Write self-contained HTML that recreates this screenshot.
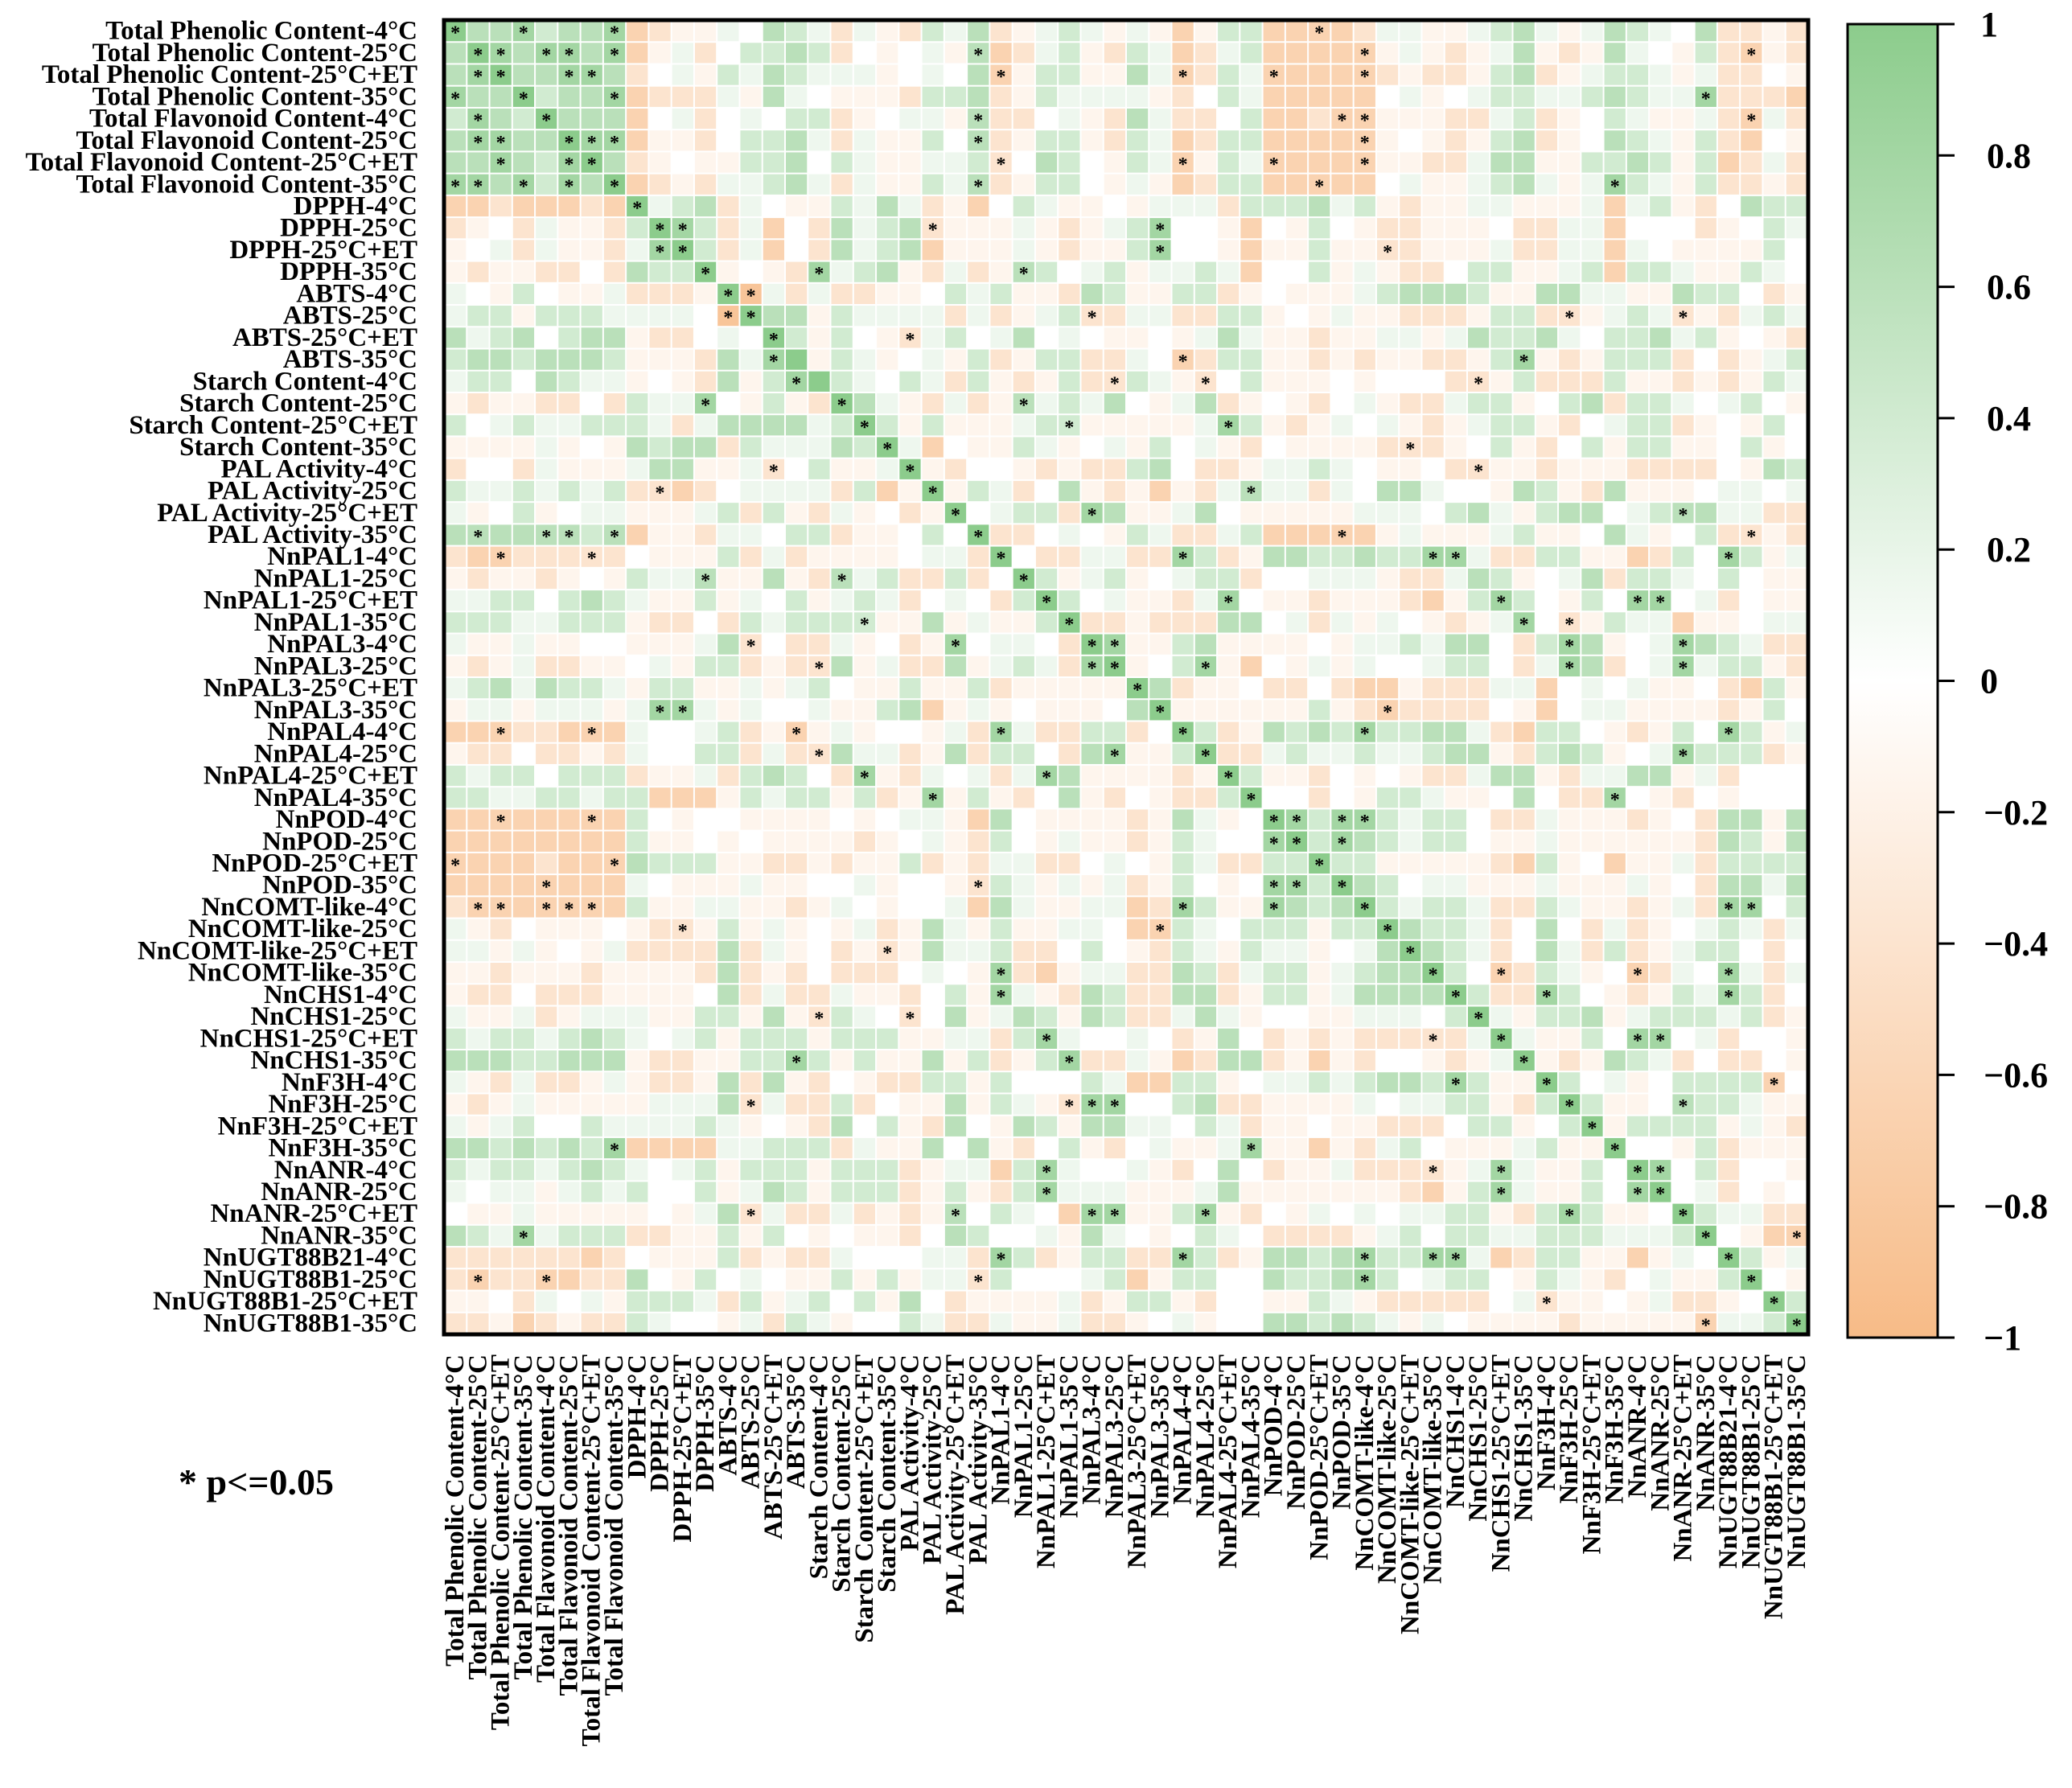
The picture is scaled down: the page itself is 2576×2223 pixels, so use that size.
<!DOCTYPE html>
<html><head><meta charset="utf-8">
<style>
html,body{margin:0;padding:0;background:#fff;}
svg text{font-family:"Liberation Serif",serif;font-weight:bold;fill:#000;}
</style></head>
<body>
<svg id="chart" width="2576" height="2218" viewBox="0 0 2576 2218" xmlns="http://www.w3.org/2000/svg">
<defs>
<linearGradient id="cbgrad" x1="0" y1="0" x2="0" y2="1">
<stop offset="0" stop-color="rgb(140,204,140)"/>
<stop offset="0.5" stop-color="rgb(255,255,255)"/>
<stop offset="1" stop-color="rgb(247,187,135)"/>
</linearGradient>
</defs>
<g id="cells"></g>
<g id="rowlabels"></g>
<g id="collabels"></g>
<rect x="552" y="25" width="1696" height="1634" fill="none" stroke="#000" stroke-width="5"/>
<rect x="2297" y="30" width="112" height="1633" fill="url(#cbgrad)" stroke="#000" stroke-width="3"/>
<g id="cbticks"></g>
<text x="222" y="1858" font-size="46">* p&lt;=0.05</text>
</svg>
<script>
const groups = ["Total Phenolic Content","Total Flavonoid Content","DPPH","ABTS","Starch Content","PAL Activity","NnPAL1","NnPAL3","NnPAL4","NnPOD","NnCOMT-like","NnCHS1","NnF3H","NnANR","NnUGT88B1"];
const conditions = ["4°C","25°C","25°C+ET","35°C"];
const cbTicks = [1,0.8,0.6,0.4,0.2,0,-0.2,-0.4,-0.6,-0.8,-1];
const levelValues = {"A":-0.85,"B":-0.65,"C":-0.4,"D":-0.15,"0":0,"d":0.15,"c":0.4,"b":0.6,"a":0.8};

const block11 = [
"a* b b a* c b b a* B C D D d 0 b c d C d D",
"b a* a* b a* a* b a* B D d C 0 c c b c C 0 D",
"b a* a* b b a* a* b C 0 d D c d b c d d d D",
"a* b b a* c b b a* B C C C d D b d 0 D D D",
"c a* b c a* b b b B 0 d C 0 d 0 c c C D 0",
"b a* a* b b a* a* a* B D D C 0 c c b d C d D",
"b b a* b c a* a* b C D 0 D D c c b 0 c d D",
"a* a* b a* c a* b a* B C D C d d c b d C d D",
"B B C B B B C B a* d c b C d 0 D D c d b",
"C D 0 C d D D C c a* a* c C d B 0 C b d c",
"D 0 d C d D D C d a* a* c C d B 0 C b d c",
"D C D D C C 0 C b c c a* D 0 D C a* d c b",
"d 0 D c 0 D D d C C C D a* A* d C d C C D",
"d c c D c c c d d d d 0 A* a* b b D c d d",
"b d c b 0 c b b D C C 0 d 0 a* c D c 0 D",
"c b b c b b b c D D D C b d a* c D c d D",
"d c c 0 b c d d D 0 D C b D c a* A c d 0",
"D C D D C C 0 C c d d a* 0 D c D C a* b d",
"c 0 d c d d c c c d C d b b b b d c a* c",
"D D D D d D 0 D b c b b C c d d d b c a*"];
const block12 = [
"C c d b C D d c d D d D B D c c B B B* B",
"0 d D b* B C d c D C c d B C d c B B B B",
"0 d 0 b B* D c c D D b d B* C c d B* B B B",
"C c c b C D c d d d d D C 0 c d B B B B",
"d d D b* C C 0 d D C b d C C 0 c B B C B*",
"D c 0 b* C D c c D C c d B C c c B B B B",
"D d d c C* 0 b c 0 D c d B* D c d B* B B B",
"D c d b* C D c c 0 D d D B C c c B B B* B",
"d C D B 0 c d D D 0 D d d d C c c c b d",
"b C* D D D d D C D d c a* 0 0 D B 0 D c 0",
"b B D D D d D C D D c a* 0 0 D B D D c D",
"D C d C D b* c 0 d c D d d c d B 0 0 c D",
"D 0 c d c D D C b c D D c c C D 0 D D D",
"d d C d C D d c C* C d d C C c c D 0 D d",
"C* d c 0 d b 0 d 0 D D 0 D d b d D D C D",
"0 d D c C D c c C C d 0 B* C c c D D C D",
"c d C c D C D c C C* c d D C* 0 c D D D 0",
"D C d C D b* d c d b 0 D d b C D 0 D C 0",
"D c D D D d c c* D D D D D d a* c D C D d",
"d B 0 D D c d D 0 d D c 0 d D C 0 D D D"];
const block13 = [
"C d d D D d c b d D d b c d 0 b C C D C",
"B* D d D C D d b D C D b d 0 D c C B* D C",
"B* C D C C D c b C D d c c d D d C C 0 D",
"B 0 d D 0 d c c d d c b c d d a* C C C B",
"B* D D D C C d c C D 0 c d D D d C B* d C",
"B* D 0 D C D c b C D 0 b c d D c C B 0 D",
"B* D D C C d b b D D c c b c D c B C d C",
"B 0 d D D d c b d D d a* c d D c C C D C",
"c D C D D d d D D D d B d c D C 0 b c c",
"D C C D D D 0 C C d d B 0 0 0 C D 0 c d",
"D C* C D D D d C C d d B d 0 D D D D c 0",
"d D C C 0 c c D D d c B c c d D D c d 0",
"d c b b b c D D b b d d D D b c c 0 C D",
"D D C C C D c c C C* D d c d C* D C d c d",
"D d d D d b c c b d 0 c c b d c D 0 D C",
"C D D C C D c a* D C D c c c C 0 C D d c",
"D 0 0 0 C C* D c C C C c D D C D C D c d",
"d D C C d c c D 0 c b C c c d 0 d c 0 D",
"0 d D C D d c c D C 0 d c c C D 0 D c 0",
"D C C* C D 0 c D C 0 c D c c D D 0 c D 0"];
const block22 = [
"a* D C 0 0 D C D C C c b 0 C C D d d c d",
"D a* D c d C 0 b D C D B D C d b* d d C d",
"C D a* 0 d c c C a* b D D d b 0 D D D D D",
"0 c 0 a* C C 0 d 0 D c d C C d c B B B B*",
"0 d d C a* 0 C C d d C C a* c C D b b c c",
"C C c C 0 a* c D d c D 0 d c c C 0 0 d d",
"C 0 d 0 C c a* c 0 d D D C d a* 0 D D C D",
"D b D d D D c a* C C D C C C b b 0 d C d",
"C D a* 0 d d 0 C a* a* D D c b D D D D 0 D",
"C C b D d c d C a* a* D 0 c a* D B 0 D d D",
"c D D c C D D D D D a* b C D D 0 C C 0 C",
"b B D d D 0 D D D 0 b a* D D D D D D c D",
"0 D d C a* d C C c c C 0 a* c C D b c b c",
"C D b C c c 0 C b a* D D c a* C C d c d d",
"C d 0 d C d a* b D D D D C D a* c D D C 0",
"D a* D c D C 0 b D C 0 D C C c a* 0 0 C 0",
"d d D B b 0 D D D D C D b d D 0 a* a* c a*",
"0 d D C c 0 D d D D C D c d 0 0 a* a* c a*",
"c C D C d d C C 0 d 0 D c d C C c c a* c",
"0 0 D C* c d D d D d C D c 0 D 0 a* a* c a*"];
const block23 = [
"0 D D 0 C C* D D C D D D C C C C 0 D b c",
"0 b b d 0 0 D b c D C b D D D 0 d d 0 d",
"d d d 0 c b d D c b b 0 d c b* b d d C C",
"B D d D D D d c D D 0 b d D 0 c C C* D C",
"b c c a* a* d C C c c D D B C c 0 a* c D d",
"d D C C d b c D 0 d b C c c d 0 c 0 D D",
"D D C B D c a* c 0 D c 0 a* a* 0 d C 0 D D",
"D d 0 D C D d a* 0 C* D c d d B D D 0 d d",
"d d c d b b 0 C c a* b D 0 d a* b c d C C",
"d 0 0 d c c 0 C d a* b C 0 d a* d c c D C",
"B B D C C C d d B 0 d 0 d D D 0 C B c D",
"C B* C C C C 0 D B 0 d d D D D D C D c 0",
"a* c c b b d C B c c 0 D C D c 0 a* c D d",
"c d d c b b D C c b c D 0 d a* c c c C D",
"D 0 D C C d b b D C d d b b D d C 0 0 0",
"D c c d D D 0 b 0 C C a* 0 D C 0 D 0 0 0",
"a* c d c c 0 C C d D D D C D 0 C b b D b",
"b c d c c 0 D D d D D D D D D C b c D b",
"c D D D D D C B c D 0 B D D d C c c c c",
"b c 0 d d D D D d D D D d D 0 C b b d b"];
const block33 = [
"a* c d c c d C C c d D D C D d C a* a* 0 c",
"c a* b c c d C 0 b 0 C d C D 0 d c d C d",
"d b a* b c d C 0 b d C c C D d c c 0 C 0",
"c b b a* c 0 B* C c d D 0 B* C d 0 a* d C d",
"b b b b a* c C C a* c 0 D C D c d a* c C 0",
"d d d 0 c a* d D c c b D d c c c d c C D",
"C C C C* C d a* d D D c 0 a* a* 0 d C 0 0 D",
"C 0 0 D C D d a* D C D b c d C 0 C C 0 D",
"c b b c a* c D D a* c 0 d D 0 c c c c B* 0",
"d 0 d d c c D C c a* c D D 0 b* c c d D D",
"D C C C 0 c c D 0 c a* D c c c c D d D C",
"C d c 0 D D D d c D D a* 0 0 D c C D D D",
"C C C C* D d a* d D D c 0 a* a* 0 c C 0 0 D",
"D D C B D c a* d D D c 0 a* a* 0 d C 0 D 0",
"d 0 d d c c D C c a* c D D 0 a* c d d C C",
"D d c 0 c c d d c c c d d d c a* 0 D B B*",
"a* c c a* a* d B C c c D D B D d 0 a* c D d",
"a* c 0 d c c 0 D c d D C 0 d D D c a* 0 D",
"D C C C C C 0 d C* D D 0 D d C C D 0 a* c",
"c d D d 0 D D D D C D D D D D B* d d c a*"];

const N = 60;
const val = [], sig = [];
for (let i=0;i<N;i++){ val.push(new Array(N).fill(0)); sig.push(new Array(N).fill(false)); }
function put(block, r0, c0, mirror){
  block.forEach((row, i) => {
    row.trim().split(/\s+/).slice(0,20).forEach((tok, j) => {
      const v = levelValues[tok[0]];
      const s = tok.indexOf('*') >= 0;
      const r = r0+i, c = c0+j;
      val[r][c] = (r===c) ? 1 : v; sig[r][c] = s;
      if (mirror){ val[c][r] = val[r][c]; sig[c][r] = s; }
    });
  });
}
put(block11,0,0,false); put(block22,20,20,false); put(block33,40,40,false);
put(block12,0,20,true); put(block13,0,40,true); put(block23,20,40,true);

const labels = [];
groups.forEach((g, gi) => conditions.forEach((c, ci) => {
  labels.push((gi===14 && ci===0) ? "NnUGT88B21-4°C" : g + "-" + c);
}));

const X0=552, Y0=25, W=1696, H=1634;
const cw = W/N, ch = H/N;
const xPos = j => X0 + j*cw;
const yPos = i => Y0 + i*ch;
function color(v){
  const g=[140,204,140], o=[247,187,135];
  const t=Math.min(1,Math.abs(v)), e=v>=0?g:o;
  return `rgb(${Math.round(255+(e[0]-255)*t)},${Math.round(255+(e[1]-255)*t)},${Math.round(255+(e[2]-255)*t)})`;
}
const NS="http://www.w3.org/2000/svg";
const cells=document.getElementById('cells');
for (let i=0;i<N;i++) for (let j=0;j<N;j++){
  const r=document.createElementNS(NS,'rect');
  r.setAttribute('x',xPos(j)+1); r.setAttribute('y',yPos(i)+1);
  r.setAttribute('width',cw-2); r.setAttribute('height',ch-2);
  r.setAttribute('fill',color(val[i][j]));
  
  
  cells.appendChild(r);
  if (sig[i][j]){
    const t=document.createElementNS(NS,'text');
    t.setAttribute('x',xPos(j)+cw/2); t.setAttribute('y',yPos(i)+ch/2+10);
    t.setAttribute('text-anchor','middle'); t.setAttribute('font-size','24');
    t.textContent='*';
    
    
    cells.appendChild(t);
  }
}
const rl=document.getElementById('rowlabels'), cl=document.getElementById('collabels');
labels.forEach((lab,i)=>{
  const t=document.createElementNS(NS,'text');
  t.setAttribute('x',519); t.setAttribute('y',yPos(i)+ch/2+10);
  t.setAttribute('text-anchor','end'); t.setAttribute('font-size','33');
  t.textContent=lab;
  
  
  rl.appendChild(t);
  const c=document.createElementNS(NS,'text');
  const cx=xPos(i)+cw/2+10, cy=1684;
  c.setAttribute('x',cx); c.setAttribute('y',cy);
  c.setAttribute('text-anchor','end'); c.setAttribute('font-size','33');
  c.setAttribute('transform',`rotate(-90 ${cx} ${cy})`);
  c.textContent=lab;
  
  
  cl.appendChild(c);
});
const cb=document.getElementById('cbticks');
const cbY = v => 30 + (1-v)/2*1633;
cbTicks.forEach(v=>{
  const l=document.createElementNS(NS,'line');
  l.setAttribute('x1',2409); l.setAttribute('x2',2430);
  l.setAttribute('y1',cbY(v)); l.setAttribute('y2',cbY(v));
  l.setAttribute('stroke','#000'); l.setAttribute('stroke-width','3');
  
  
  cb.appendChild(l);
  const t=document.createElementNS(NS,'text');
  t.setAttribute('x', v<0 ? 2466 : (v===0||v===1 ? 2462 : 2470));
  t.setAttribute('y',cbY(v)+15); t.setAttribute('font-size','44');
  t.textContent = v<0 ? '\u2212'+Math.abs(v) : String(v);
  
  
  cb.appendChild(t);
});
</script>
</body></html>
